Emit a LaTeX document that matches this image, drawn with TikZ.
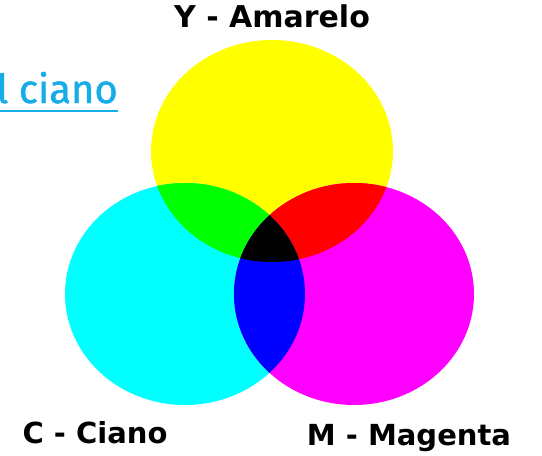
\documentclass[tikz,border=0pt]{standalone}
\usepackage{fontspec}
\newfontfamily\labfont{DejaVu Sans}
\newfontfamily\linkfont[FakeBold=1.2]{Fira Sans}
\definecolor{linkblue}{RGB}{22,172,232}
\definecolor{inky}{RGB}{255,255,0}
\definecolor{inkc}{RGB}{0,255,255}
\definecolor{inkm}{RGB}{255,0,255}
\definecolor{inkg}{RGB}{0,255,0}
\definecolor{inkr}{RGB}{255,0,0}
\definecolor{inkb}{RGB}{0,0,255}
\definecolor{inkk}{RGB}{0,0,0}

\begin{document}
\begin{tikzpicture}[x=1pt,y=-1pt]
\useasboundingbox (0,0) rectangle (542,456);
% the three inks
\fill[inky] (272,151) ellipse [x radius=121, y radius=111];
\fill[inkc] (185,294) ellipse [x radius=120, y radius=111];
\fill[inkm] (354,294) ellipse [x radius=120, y radius=111];
% two by two
\begin{scope}
\clip (272,151) ellipse [x radius=121, y radius=111];
\fill[inkg] (185,294) ellipse [x radius=120, y radius=111];
\fill[inkr] (354,294) ellipse [x radius=120, y radius=111];
\end{scope}
\begin{scope}
\clip (185,294) ellipse [x radius=120, y radius=111];
\fill[inkb] (354,294) ellipse [x radius=120, y radius=111];
\clip (354,294) ellipse [x radius=120, y radius=111];
\fill[inkk] (272,151) ellipse [x radius=121, y radius=111];
\end{scope}
% labels
\node[anchor=base, inner sep=0, font=\labfont\bfseries\fontsize{30}{30}\selectfont] (y) at (272,27) {Y - Amarelo};
\node[anchor=base, inner sep=0, font=\labfont\bfseries\fontsize{29}{29}\selectfont] (c) at (95,443) {C - Ciano};
\node[anchor=base, inner sep=0, font=\labfont\bfseries\fontsize{29}{29}\selectfont] (m) at (409,445) {M - Magenta};
\node[anchor=base east, inner sep=0, text=linkblue, font=\linkfont\fontsize{40}{40}\selectfont] (lk) at (118,103) {l ciano};
\draw[linkblue, line width=2.5] ([yshift=-8]lk.base west) -- ([yshift=-8]lk.base east);
\end{tikzpicture}
\end{document}
